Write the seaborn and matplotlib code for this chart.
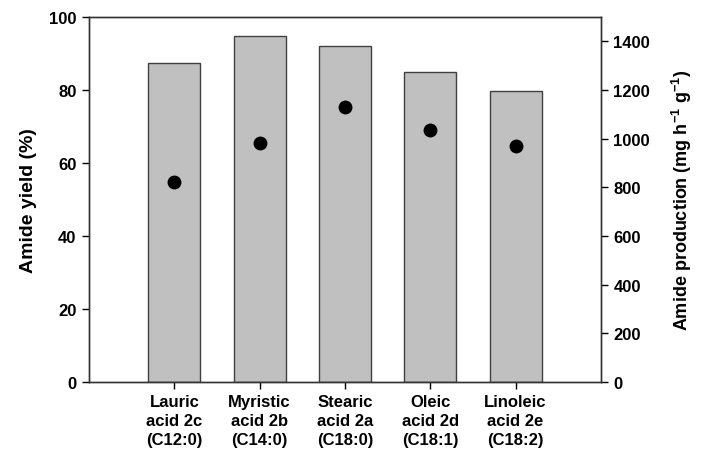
import matplotlib
matplotlib.use("Agg")
import matplotlib.pyplot as plt
import seaborn as sns
import pandas as pd
import numpy as np

# Data
acids = ["Lauric\nacid 2c\n(C12:0)", "Myristic\nacid 2b\n(C14:0)", "Stearic\nacid 2a\n(C18:0)",
         "Oleic\nacid 2d\n(C18:1)", "Linoleic\nacid 2e\n(C18:2)"]
amide_yield = [87.4, 94.8, 92.0, 84.9, 79.7]
amide_production = [822, 982, 1130, 1036, 970]

df = pd.DataFrame({"Acid": acids, "Yield": amide_yield, "Production": amide_production})

sns.set_style("ticks")
plt.rcParams["font.family"] = ["Liberation Sans", "DejaVu Sans"]
plt.rcParams["font.weight"] = "bold"
plt.rcParams["text.color"] = "black"
plt.rcParams["axes.labelcolor"] = "black"
plt.rcParams["xtick.color"] = "black"
plt.rcParams["ytick.color"] = "black"
plt.rcParams["mathtext.fontset"] = "custom"
plt.rcParams["mathtext.rm"] = "Liberation Sans:bold"
plt.rcParams["mathtext.it"] = "Liberation Sans:bold"
plt.rcParams["mathtext.default"] = "rm"

fig = plt.figure(figsize=(7.02, 4.52), dpi=100)
ax = fig.add_axes([0.1268, 0.1527, 0.7292, 0.8075])

sns.barplot(data=df, x="Acid", y="Yield", ax=ax, color="#c0c0c0",
            edgecolor="#404040", linewidth=1.0, width=0.61, saturation=1)

ax2 = ax.twinx()
sns.stripplot(data=df, x="Acid", y="Production", ax=ax2, jitter=False,
              color="black", size=10, zorder=5)

ax.set_xlim(-1, 5)
ax.set_ylim(0, 100)
ax2.set_ylim(0, 1500)
ax.set_yticks([0, 20, 40, 60, 80, 100])
ax2.set_yticks([0, 200, 400, 600, 800, 1000, 1200, 1400])

ax.set_xlabel("")
ax.set_ylabel("Amide yield (%)", fontsize=14, fontweight="bold", labelpad=9)
ax2.set_ylabel(r"Amide production (mg h$^{-1}$ g$^{-1}$)", fontsize=13,
               fontweight="bold", labelpad=14)
ax2.set_xlabel("")

for a in (ax, ax2):
    for s in a.spines.values():
        s.set_visible(True)
        s.set_color("#333333")
        s.set_linewidth(1.0)
    a.tick_params(axis="y", direction="out", length=5, width=1, colors="black",
                  labelsize=12, pad=4)

ax.tick_params(axis="x", direction="out", length=5, width=1, colors="black",
               labelsize=12, pad=4)
for lbl in ax.get_xticklabels():
    lbl.set_fontweight("bold")
    lbl.set_linespacing(1.3)
for lbl in ax.get_yticklabels() + ax2.get_yticklabels():
    lbl.set_fontweight("bold")

fig.savefig("out.png", dpi=100, facecolor="white")
